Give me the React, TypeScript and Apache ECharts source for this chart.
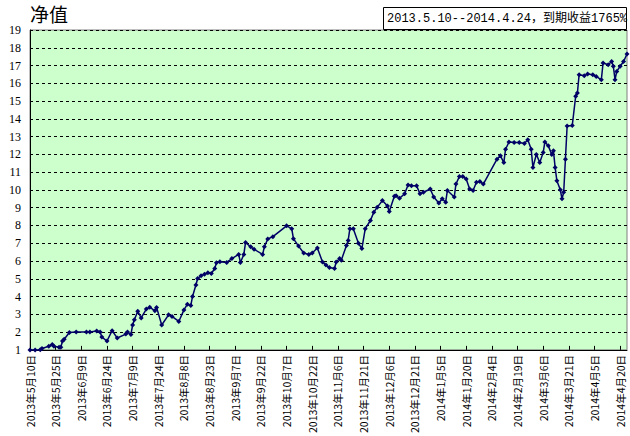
import React, { useEffect, useRef } from "react";
import * as echarts from "echarts";

const title = "净值";
const note = "2013.5.10--2014.4.24，到期收益1765%";
const startDate = "2013-05-10";
const endDate = "2014-04-24";
const yTicks = [1, 19];

const dates = [
  "2013-05-10","2013-05-13","2013-05-16","2013-05-17","2013-05-21","2013-05-23","2013-05-24","2013-05-27","2013-05-28","2013-05-29","2013-05-30",
  "2013-06-02","2013-06-06","2013-06-12","2013-06-14","2013-06-18","2013-06-20","2013-06-21","2013-06-24","2013-06-27","2013-06-30",
  "2013-07-05","2013-07-06","2013-07-08","2013-07-09","2013-07-10","2013-07-12","2013-07-14","2013-07-17","2013-07-19","2013-07-22","2013-07-23","2013-07-26","2013-07-30",
  "2013-08-01","2013-08-05","2013-08-08","2013-08-10","2013-08-12","2013-08-13","2013-08-15","2013-08-16","2013-08-18","2013-08-20","2013-08-22","2013-08-24","2013-08-26","2013-08-27","2013-08-29",
  "2013-09-02","2013-09-05","2013-09-09","2013-09-10","2013-09-12","2013-09-13","2013-09-16","2013-09-18","2013-09-23","2013-09-24","2013-09-26","2013-09-29",
  "2013-10-07","2013-10-10","2013-10-11","2013-10-14","2013-10-17","2013-10-20","2013-10-22","2013-10-25","2013-10-28","2013-10-30",
  "2013-11-01","2013-11-04","2013-11-05","2013-11-07","2013-11-08","2013-11-11","2013-11-12","2013-11-13","2013-11-15","2013-11-18","2013-11-20","2013-11-22","2013-11-25","2013-11-27","2013-11-29",
  "2013-12-02","2013-12-05","2013-12-06","2013-12-09","2013-12-10","2013-12-12","2013-12-15","2013-12-17","2013-12-19","2013-12-22","2013-12-24","2013-12-26","2013-12-30",
  "2014-01-01","2014-01-04","2014-01-06","2014-01-08","2014-01-09","2014-01-13","2014-01-14","2014-01-16","2014-01-18","2014-01-20","2014-01-22","2014-01-24","2014-01-26","2014-01-28","2014-01-30",
  "2014-02-07","2014-02-09","2014-02-11","2014-02-12","2014-02-14","2014-02-17","2014-02-20","2014-02-23","2014-02-25","2014-02-27","2014-02-28",
  "2014-03-02","2014-03-04","2014-03-06","2014-03-07","2014-03-09","2014-03-11","2014-03-12","2014-03-13","2014-03-14","2014-03-16","2014-03-17","2014-03-18","2014-03-19","2014-03-20","2014-03-23","2014-03-25","2014-03-26","2014-03-27","2014-03-30",
  "2014-04-01","2014-04-04","2014-04-06","2014-04-09","2014-04-10","2014-04-13","2014-04-15","2014-04-16","2014-04-17","2014-04-18","2014-04-20","2014-04-22","2014-04-24"
];

const values = [
  1.0,1.0,1.01,1.08,1.2,1.3,1.2,1.15,1.15,1.5,1.6,
  1.98,2.0,2.0,2.0,2.06,2.0,1.72,1.5,2.08,1.67,
  1.89,2.0,1.86,2.4,2.7,3.17,2.8,3.3,3.4,3.2,3.39,2.4,2.97,
  2.88,2.6,3.25,3.57,3.5,4.0,4.65,5.02,5.17,5.26,5.34,5.3,5.58,5.9,5.96,
  5.92,6.14,6.37,5.92,6.37,7.04,6.8,6.66,6.37,6.8,7.24,7.37,
  7.98,7.82,7.26,6.84,6.45,6.37,6.45,6.73,5.95,5.77,
  5.64,5.58,5.95,6.14,6.05,6.88,7.16,7.82,7.82,7.0,6.7,7.82,8.28,8.75,9.03,
  9.4,9.09,8.79,9.65,9.68,9.53,9.78,10.28,10.24,10.24,9.78,9.87,10.05,
  9.6,9.27,9.5,9.31,9.97,9.6,10.33,10.76,10.76,10.61,10.05,9.97,10.43,10.47,10.33,
  11.73,11.92,11.54,12.29,12.7,12.67,12.67,12.61,12.82,12.29,11.26,
  12.0,11.54,12.1,12.7,12.48,12.0,12.2,11.26,10.52,10.01,9.5,9.87,11.73,13.6,13.63,15.27,15.45,16.48,16.43,
  16.52,16.48,16.39,16.2,17.14,17.04,17.23,16.96,16.2,16.67,16.96,17.23,17.65
];

const DAY = 86400000;
const t0 = Date.parse(startDate);
const dayIndex = (d: string) => Math.round((Date.parse(d) - t0) / DAY);
const fmtDay = (v: number) => {
  const dt = new Date(t0 + v * DAY);
  return `${dt.getUTCFullYear()}年${dt.getUTCMonth() + 1}月${dt.getUTCDate()}日`;
};

export default function App() {
  const ref = useRef<HTMLDivElement>(null);
  useEffect(() => {
    if (!ref.current) return;
    const chart = echarts.init(ref.current, null, { renderer: "svg" });
    const data = dates.map((d, i) => [dayIndex(d), values[i]]);
    chart.setOption({
      animation: false,
      backgroundColor: "#ffffff",
      grid: {
        left: 30,
        right: 3,
        top: 30,
        bottom: 84,
        show: true,
        backgroundColor: "#ccffcc",
        borderColor: "#808080",
        borderWidth: 1,
      },
      graphic: [
        {
          type: "text",
          left: 30,
          top: 4,
          style: { text: title, fontSize: 19, fontFamily: "'Noto Sans CJK SC'", fill: "#000" },
        },
        {
          type: "rect",
          shape: { x: 383.5, y: 7.5, width: 243, height: 22 },
          style: { fill: "#fff", stroke: "#000", lineWidth: 1 },
          z: 10,
        },
        {
          type: "text",
          x: 387,
          y: 18.5,
          z: 11,
          style: {
            text: note,
            fontSize: 12,
            fontFamily: "'Liberation Mono', 'Noto Sans CJK SC'",
            fill: "#000",
            verticalAlign: "middle",
          },
        },
      ],
      xAxis: {
        type: "value",
        min: 0,
        max: dayIndex(endDate),
        interval: 15,
        axisLine: { show: true, onZero: false, lineStyle: { color: "#000", width: 1 } },
        axisTick: { show: true, inside: true, length: 4, lineStyle: { color: "#000" } },
        splitLine: { show: false },
        axisLabel: {
          rotate: 90,
          fontSize: 10.5,
          fontFamily: "'Noto Sans CJK SC'",
          color: "#000",
          margin: 5,
          showMaxLabel: false,
          formatter: (v: number) => fmtDay(v),
        },
      },
      yAxis: {
        type: "value",
        min: yTicks[0],
        max: yTicks[1],
        interval: 1,
        axisLine: { show: true, lineStyle: { color: "#000", width: 1 } },
        axisTick: { show: false },
        splitLine: { show: true, lineStyle: { color: "#000", type: [3, 3], width: 1 } },
        axisLabel: {
          fontSize: 12,
          fontFamily: "'Liberation Serif'",
          color: "#000",
          margin: 9,
        },
      },
      series: [
        {
          type: "line",
          data,
          symbol: "diamond",
          symbolSize: 5,
          showAllSymbol: true,
          lineStyle: { color: "#000066", width: 1.5 },
          itemStyle: { color: "#000066" },
        },
      ],
    });
    return () => chart.dispose();
  }, []);
  return (
    <div
      ref={ref}
      style={{ position: "fixed", left: 0, top: 0, width: 630, height: 436 }}
    />
  );
}
